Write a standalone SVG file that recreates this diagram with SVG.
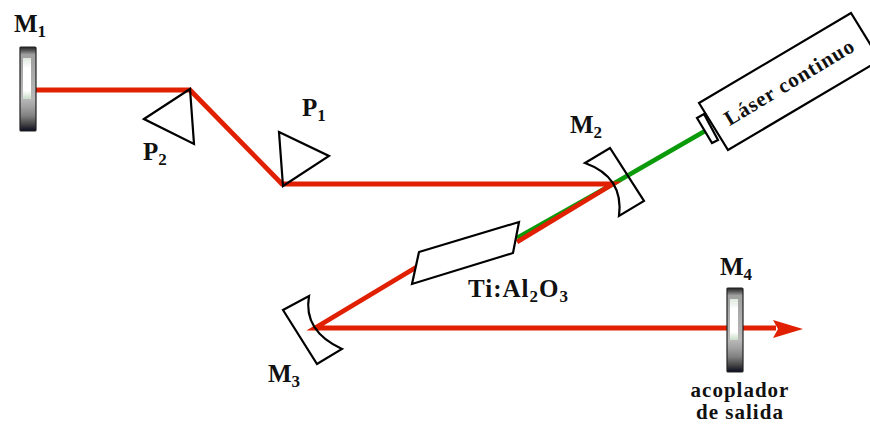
<svg xmlns="http://www.w3.org/2000/svg" width="870" height="425" viewBox="0 0 870 425">
<style>
.o{fill:#fff;stroke:#000;stroke-width:2.2;stroke-linejoin:miter}
.n{fill:none;stroke:#000;stroke-width:2.2}
.r{fill:none;stroke:#e02000;stroke-width:4.8;stroke-linejoin:miter}
.g{fill:none;stroke:#0a9a0a;stroke-width:4.8}
text{font-family:"Liberation Serif","Times New Roman",serif;font-weight:bold;fill:#111;font-size:25px}
.s{font-size:17px}
.t{font-size:21px;letter-spacing:1px;text-anchor:middle}
</style>
<defs>
<linearGradient id="mg" x1="0" y1="0" x2="0" y2="1">
<stop offset="0" stop-color="#222"/><stop offset=".04" stop-color="#555"/><stop offset=".09" stop-color="#a0a0a0"/>
<stop offset=".62" stop-color="#b8b8b8"/><stop offset=".72" stop-color="#a0a0a0"/><stop offset=".82" stop-color="#808080"/>
<stop offset=".92" stop-color="#444"/><stop offset="1" stop-color="#0a0a20"/>
</linearGradient>
<linearGradient id="mw" x1="0" y1="0" x2="0" y2="1">
<stop offset="0" stop-color="#dfe8df"/><stop offset=".25" stop-color="#fff"/><stop offset=".8" stop-color="#fff"/><stop offset="1" stop-color="#c8dcc8"/>
</linearGradient>
<g id="mirror">
<rect x="0" y="0" width="16" height="84" rx="1" fill="url(#mg)" stroke="#222" stroke-width="1.2"/>
<rect x="3" y="11" width="8" height="41" fill="url(#mw)"/>
</g>
</defs>
<g id="connectors">
<path class="g" d="M705 131L613 184L517 238"/>
<path class="r" d="M36 90H190L282 184H613L517 242"/>
<path class="r" d="M420 265L315 328H776"/>
<path d="M803 329L773 320L778 329L773 338Z" fill="#e02000"/>
</g>
<g id="M1"><use href="#mirror" x="20" y="47"/><text x="14" y="32">M<tspan class="s" dy="5">1</tspan></text></g>
<g id="P2"><path class="n" d="M144 119L190 89L194 144Z"/><text x="143" y="160">P<tspan class="s" dy="5">2</tspan></text></g>
<g id="P1"><path class="n" d="M279 132L329 156L283 186Z"/><text x="302" y="116">P<tspan class="s" dy="5">1</tspan></text></g>
<g id="M2"><path class="n" d="M585 163L610 148L644 201L619 216Q624 177 585 163Z"/><text x="570" y="133">M<tspan class="s" dy="5">2</tspan></text></g>
<g id="laser">
<path class="o" d="M697 118L704 114L718 140L712 143Z"/>
<path class="o" d="M699 103L851 13L880 60L728 150Z"/>
<text class="t" transform="translate(793 88) rotate(-31)">Láser continuo</text>
</g>
<g id="crystal"><path class="o" d="M419 252L519 222L513 253L412 284Z"/><text x="468" y="297" letter-spacing="1">Ti:Al<tspan class="s" dy="5">2</tspan><tspan dy="-5">O</tspan><tspan class="s" dy="5">3</tspan></text></g>
<g id="M3"><path class="n" d="M283 310L309 296Q303 331 342 349L317 364Z"/><text x="268" y="382">M<tspan class="s" dy="5">3</tspan></text></g>
<g id="M4"><use href="#mirror" x="727" y="288"/><text x="720" y="275">M<tspan class="s" dy="5">4</tspan></text>
<text class="t" x="740" y="397">acoplador</text><text class="t" x="740" y="419">de salida</text></g>
</svg>
